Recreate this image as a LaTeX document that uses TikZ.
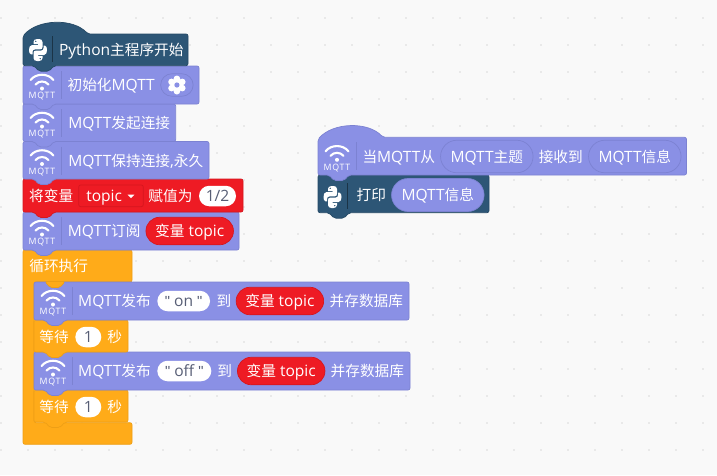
\documentclass[tikz,border=0pt]{standalone}
\usepackage{fontspec}
\usepackage[dvipsnames]{xcolor}
\usetikzlibrary{shapes.misc}
\setmainfont[Scale=1.06]{Open Sans}
\newfontfamily\cjkfont{Noto Sans CJK SC}
\newfontfamily\tagfont[LetterSpace=8]{Open Sans}
\newfontfamily\quotefont{Liberation Sans}
\newcommand{\zh}[1]{{\cjkfont #1}}
\newcommand{\qm}{{\quotefont"}}
\definecolor{pagebg}{HTML}{F9F9F9}
\definecolor{griddot}{HTML}{E9E9E9}
\definecolor{mqttcol}{HTML}{8A90E5}
\definecolor{mqttedge}{HTML}{7C82D2}
\definecolor{pycol}{HTML}{2D5676}
\definecolor{pyedge}{HTML}{264A66}
\definecolor{redcol}{HTML}{EE1B24}
\definecolor{rededge}{HTML}{D5161E}
\definecolor{loopcol}{HTML}{FFAB19}
\definecolor{loopedge}{HTML}{EE9F16}
\definecolor{valtext}{HTML}{575E75}
\newcommand{\stackblock}[5]{\draw[#1,rounded corners=2pt] (#2,#3) -- (#4,#3) -- (#4,#5) -- ({#2+31},#5) -- ({#2+26},{#5+5.5}) -- ({#2+16},{#5+5.5}) -- ({#2+11},#5) -- (#2,#5) -- cycle;}
\newcommand{\hatblock}[5]{\draw[#1,rounded corners=2pt] (#2,{#3+2}) .. controls ({#2+15},{#3-15}) and ({#2+50},{#3-16}) .. ({#2+65},#3) -- (#4,#3) -- (#4,#5) -- ({#2+31},#5) -- ({#2+26},{#5+5.5}) -- ({#2+16},{#5+5.5}) -- ({#2+11},#5) -- (#2,#5) -- cycle;}
\newcommand{\wifiicon}[3]{
    \draw[white,line width=2.1pt,line cap=round] ({#1-11.5},{#2+14}) .. controls ({#1-6},{#2+7}) and ({#1+6},{#2+7}) .. ({#1+11.5},{#2+14});
    \draw[white,line width=2.1pt,line cap=round] ({#1-6.5},{#2+18.5}) .. controls ({#1-3},{#2+14.5}) and ({#1+3},{#2+14.5}) .. ({#1+6.5},{#2+18.5});
    \fill[white] (#1,{#2+22.5}) circle (2pt);
    \node[tag] (#3) at (#1,{#2+30.5}) {MQTT};
    \draw[mqttedge] ({#1+19.5},{#2+5}) -- ({#1+19.5},{#2+33});
}
\newcommand{\pyhalf}{
    (-4.5,-6) -- (-4.5,-8) .. controls (-4.5,-9.8) and (-3,-11) .. (-1,-11) -- (1,-11) .. controls (3,-11) and (4.5,-10) .. (4.5,-8) -- (4.5,-3) .. controls (4.5,-1.5) and (3.5,-0.6) .. (2,-0.6) -- (-3,-0.6) .. controls (-4.7,-0.6) and (-5.5,0.5) .. (-5.5,2) -- (-5.5,4.4) -- (-7,4.4) .. controls (-8.5,4.4) and (-9,2) .. (-9,0) .. controls (-9,-2.5) and (-8.2,-5) .. (-6,-5) -- (0,-5) -- (0,-6) -- (-4.5,-6) -- cycle (-2.2,-8.6) circle (1pt)
}
\newcommand{\pyicon}[3]{
    \begin{scope}[shift={(#1,#2)}]
        \fill[white,even odd rule] \pyhalf;
        \fill[white,even odd rule,rotate=180] \pyhalf;
    \end{scope}
    \draw[#3] ({#1+14.5},{#2-14}) -- ({#1+14.5},{#2+12});
}
\begin{document}
\begin{tikzpicture}[x=1pt,y=-1pt,line width=0.7pt,
    mqttblock/.style={fill=mqttcol,draw=mqttedge},
    pyblock/.style={fill=pycol,draw=pyedge},
    setblock/.style={fill=redcol,draw=rededge},
    loopblock/.style={fill=loopcol,draw=loopedge},
    lbl/.style={text=white,inner sep=0pt,text height=11pt,text depth=0pt,font=\fontsize{14.67}{17}\selectfont},
    tag/.style={text=white,inner sep=0pt,font=\tagfont\fontsize{8.8}{9}\selectfont},
    pill/.style={lbl,rounded rectangle,minimum height=20.5pt},
    valpill/.style={pill,fill=white,text=valtext},
    varpill/.style={pill,fill=redcol,draw=rededge,minimum height=27.5pt,minimum width=87.5pt},
    msgpill/.style={pill,fill=mqttcol,draw=mqttedge,minimum height=32.5pt,minimum width=92.5pt}]

    \useasboundingbox (0,0) rectangle (717,475);
    \fill[pagebg] (0,0) rectangle (717,475);
    \foreach \gx in {0,...,26}
        \foreach \gy in {0,...,17}
            \fill[griddot] ({1+27*\gx-1},{18+27*\gy-1}) rectangle ++(2,2);

    \draw[loopblock,rounded corners=2pt] (23,250) -- (132,250) -- (132,282) -- (34,282) -- (34,422.7) -- (132,422.7) -- (132,444.3) -- (23,444.3) -- cycle;

    \stackblock{loopblock}{34}{390}{128}{422}
    \stackblock{mqttblock}{34}{352}{410}{390}
    \stackblock{loopblock}{34}{320}{128}{352}
    \stackblock{mqttblock}{34}{282}{409}{320}
    \draw[loopblock,rounded corners=2pt] (45,281.5) -- (50,287.5) -- (60,287.5) -- (65,281.5) -- cycle;
    \stackblock{mqttblock}{23}{212}{239}{250}
    \stackblock{setblock}{23}{179}{243}{212}
    \stackblock{mqttblock}{23}{141.5}{209}{179}
    \stackblock{mqttblock}{23}{104}{175.7}{141.5}
    \stackblock{mqttblock}{23}{66}{199}{104}
    \hatblock{pyblock}{23}{34}{188}{65.7}

    \stackblock{pyblock}{318}{175}{489}{212.7}
    \hatblock{mqttblock}{318}{137.3}{686.5}{175}

    \pyicon{38}{50}{pyedge!70!black}
    \wifiicon{42}{66}{tagInit}
    \wifiicon{42}{104}{tagConnect}
    \wifiicon{42}{141.5}{tagKeep}
    \wifiicon{42}{212}{tagSub}
    \wifiicon{53}{282}{tagPubOn}
    \wifiicon{53}{352}{tagPubOff}
    \wifiicon{337}{137.3}{tagWhen}
    \pyicon{332.5}{197}{pyedge!70!black}

    \node[lbl] (pymain) at (121.3,50) {Python\zh{主程序开始}};

    \node[lbl] (init) at (111.2,85) {\zh{初始化}MQTT};
    \node[pill,draw=mqttedge,minimum width=32.5pt,minimum height=22.5pt] (gearpill) [node distance=65.7pt, right of = init]{};
    \foreach \ang in {30,90,...,330}
        \fill[white] (gearpill.center) ++(\ang:6.2) circle (3.3pt);
    \fill[white] (gearpill.center) circle (6.5pt);
    \fill[mqttcol] (gearpill.center) circle (2.6pt);

    \node[lbl] (connect) at (119.2,123) {MQTT\zh{发起连接}};
    \node[lbl] (keep) at (135.8,160.5) {MQTT\zh{保持连接},\zh{永久}};

    \node[lbl] (setvar) at (51.2,196) {\zh{将变量}};
    \draw[fill=redcol,draw=rededge,rounded corners=2pt] (78.7,185) rectangle (143.3,206.7);
    \node[lbl] (topicname) [node distance=53pt, right of = setvar]{topic};
    \fill[white] (127.7,194.7) -- (134.3,194.7) -- (131,198.2) -- cycle;
    \node[lbl] (assign) [node distance=66.3pt, right of = topicname]{\zh{赋值为}};
    \node[valpill,minimum width=37pt] (half) [node distance=47pt, right of = assign]{1/2};

    \node[lbl] (subscribe) at (104.2,231) {MQTT\zh{订阅}};
    \node[pill,fill=redcol,draw=rededge,minimum height=27.5pt,minimum width=87.5pt] (subvar) [node distance=85.5pt, right of = subscribe]{\zh{变量} topic};

    \node[lbl] (forever) at (58.7,266) {\zh{循环执行}};

    \node[lbl] (pubon) at (114.5,301) {MQTT\zh{发布}};
    \node[valpill,minimum width=52.7pt] (onval) [node distance=69.2pt, right of = pubon]{\qm\ on \qm};
    \node[lbl] (toon) [node distance=40.3pt, right of = onval]{\zh{到}};
    \node[varpill] (onvar) [node distance=55.9pt, right of = toon]{\zh{变量} topic};
    \node[lbl] (saveon) [node distance=86.5pt, right of = onvar]{\zh{并存数据库}};

    \node[lbl] (waitone) at (54,337) {\zh{等待}};
    \node[valpill,minimum width=26pt] (secone) [node distance=34.3pt, right of = waitone]{1};
    \node[lbl] (unitone) [node distance=26.4pt, right of = secone]{\zh{秒}};

    \node[lbl] (puboff) at (114.5,371) {MQTT\zh{发布}};
    \node[valpill,minimum width=54pt] (offval) [node distance=69.8pt, right of = puboff]{\qm\ off \qm};
    \node[lbl] (tooff) [node distance=40.4pt, right of = offval]{\zh{到}};
    \node[varpill] (offvar) [node distance=56.5pt, right of = tooff]{\zh{变量} topic};
    \node[lbl] (saveoff) [node distance=86.2pt, right of = offvar]{\zh{并存数据库}};

    \node[lbl] (waittwo) at (54,407) {\zh{等待}};
    \node[valpill,minimum width=26pt] (sectwo) [node distance=34.3pt, right of = waittwo]{1};
    \node[lbl] (unittwo) [node distance=26.4pt, right of = sectwo]{\zh{秒}};

    \node[lbl] (whenmsg) at (398.8,156.5) {\zh{当}MQTT\zh{从}};
    \node[msgpill] (topicvar) [node distance=88pt, right of = whenmsg]{MQTT\zh{主题}};
    \node[lbl] (receive) [node distance=74pt, right of = topicvar]{\zh{接收到}};
    \node[msgpill] (msgvar) [node distance=74pt, right of = receive]{MQTT\zh{信息}};

    \node[lbl] (printer) at (371.3,195) {\zh{打印}};
    \node[pill,fill=mqttcol,draw=mqttedge,minimum height=33pt,minimum width=92.5pt] (printvar) [node distance=66.5pt, right of = printer]{MQTT\zh{信息}};
\end{tikzpicture}
\end{document}
